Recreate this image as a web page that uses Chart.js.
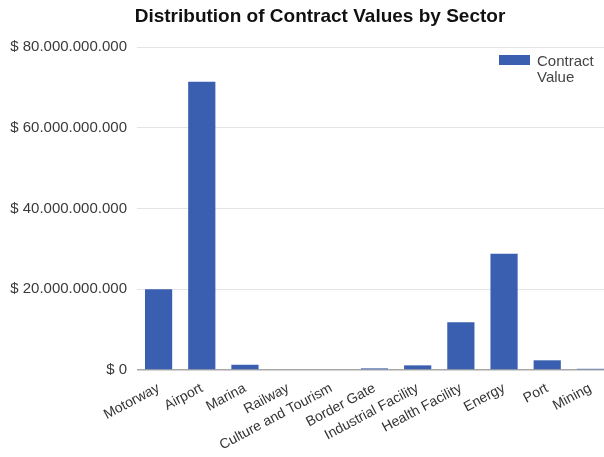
<!DOCTYPE html>
<html>
<head>
<meta charset="utf-8">
<script src="https://cdn.jsdelivr.net/npm/chart.js@4"></script>
<style>
    html, body { margin: 0; padding: 0; background: #ffffff; overflow: hidden; }
    #wrap { width: 604px; height: 457px; overflow: hidden; }
</style>
</head>
<body>
<div id="wrap">
    <canvas id="sectorChart" width="612" height="457"></canvas>
</div>
<script>
// Contract values per sector (USD)
const sectors = ['Motorway', 'Airport', 'Marina', 'Railway', 'Culture and Tourism', 'Border Gate',
    'Industrial Facility', 'Health Facility', 'Energy', 'Port', 'Mining'];
const contractValues = [20000000000, 71400000000, 1300000000, 0, 0, 400000000,
    1150000000, 11800000000, 28800000000, 2400000000, 300000000];
const yTicks = [0, 20000000000, 40000000000, 60000000000, 80000000000];

const chartTitle = 'Distribution of Contract Values by Sector';
const barColor = '#3a5fb1';
const fontFamily = '"Liberation Sans", Arial, sans-serif';

function money(v) {
    return '$ ' + String(Math.round(v)).replace(/\B(?=(\d{3})+(?!\d))/g, '.');
}

// title and two-line legend drawn by hand
const headerAndLegend = {
    id: 'headerAndLegend',
    afterDraw(chart) {
        const ctx = chart.ctx;
        ctx.save();
        ctx.fillStyle = '#111111';
        ctx.font = 'bold 19px ' + fontFamily;
        ctx.textAlign = 'center';
        ctx.textBaseline = 'alphabetic';
        ctx.fillText(chartTitle, 320, 22);

        ctx.fillStyle = barColor;
        ctx.fillRect(499, 55, 31, 10);
        ctx.fillStyle = '#444444';
        ctx.font = '15px ' + fontFamily;
        ctx.textAlign = 'left';
        ctx.fillText('Contract', 537, 66);
        ctx.fillText('Value', 537, 82);
        ctx.restore();
    }
};

document.addEventListener('DOMContentLoaded', function () {
    const ctx = document.getElementById('sectorChart').getContext('2d');
    new Chart(ctx, {
        type: 'bar',
        data: {
            labels: sectors,
            datasets: [{
                label: 'Contract Value',
                data: contractValues,
                backgroundColor: barColor,
                barPercentage: 0.63,
                categoryPercentage: 1.0
            }]
        },
        options: {
            responsive: false,
            animation: false,
            layout: { padding: { left: 0, right: 0, top: 47, bottom: 0 } },
            plugins: {
                title: { display: false },
                legend: { display: false },
                tooltip: { enabled: false }
            },
            scales: {
                x: {
                    grid: { display: false },
                    border: { display: false },
                    ticks: {
                        autoSkip: false,
                        minRotation: 28,
                        maxRotation: 28,
                        padding: 2,
                        color: '#333333',
                        font: { family: fontFamily, size: 14 }
                    },
                    afterFit: function (scale) { scale.height = 87; }
                },
                y: {
                    min: 0,
                    max: 80000000000,
                    afterBuildTicks: function (scale) {
                        scale.ticks = yTicks.map(v => ({ value: v }));
                    },
                    grid: {
                        drawTicks: false,
                        color: function (c) { return c.tick && c.tick.value === 0 ? '#a8a8a8' : '#e4e4e4'; },
                        lineWidth: function (c) { return c.tick && c.tick.value === 0 ? 1.5 : 1; }
                    },
                    border: { display: false },
                    ticks: {
                        padding: 10,
                        color: '#3a3a3a',
                        font: { family: fontFamily, size: 15 },
                        callback: function (value) { return money(value); }
                    },
                    afterFit: function (scale) { scale.width = 137; }
                }
            }
        },
        plugins: [headerAndLegend]
    });
});
</script>
</body>
</html>
